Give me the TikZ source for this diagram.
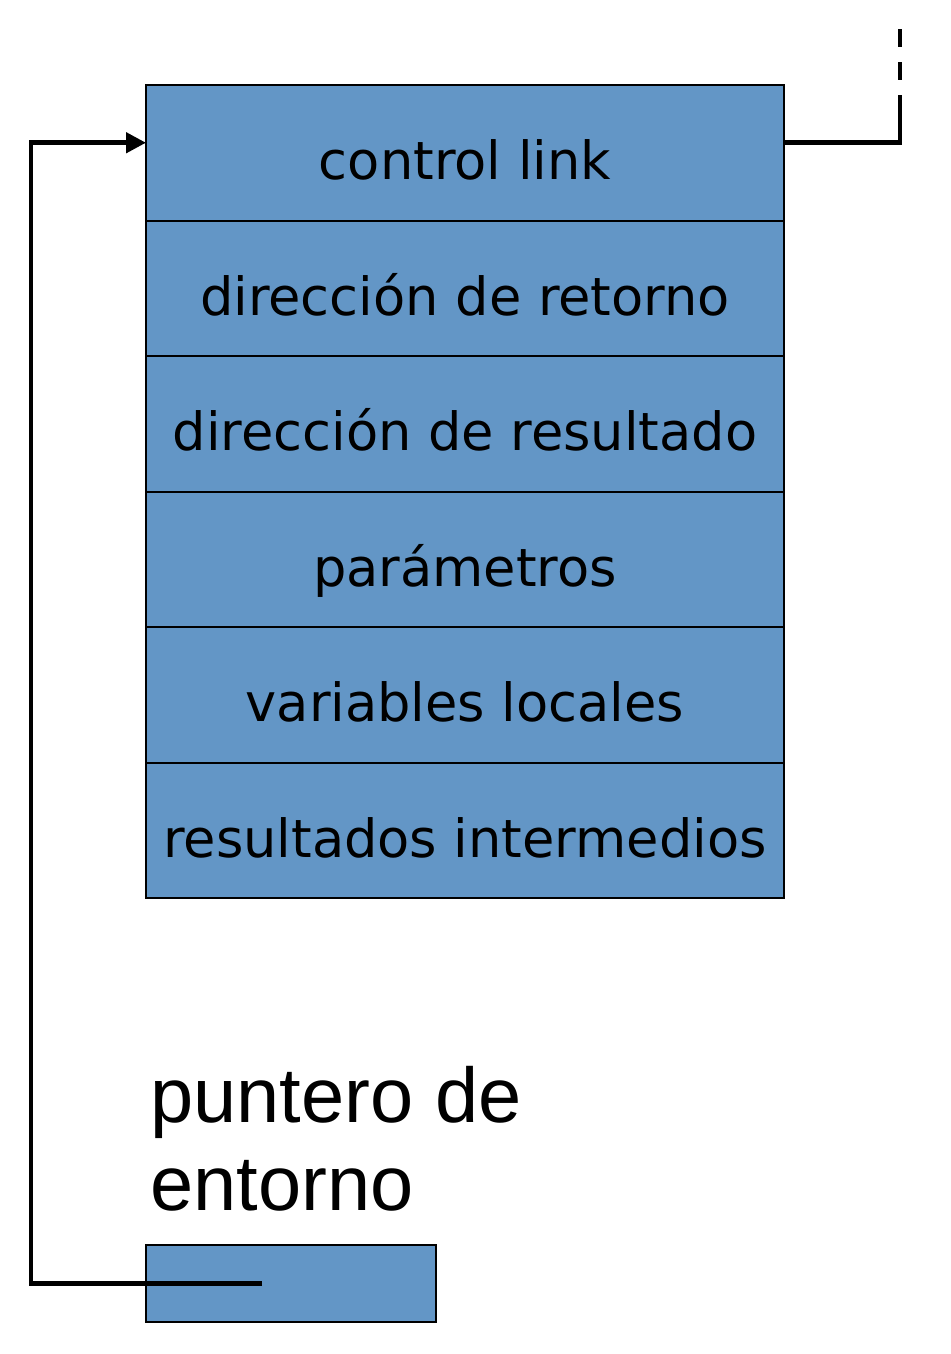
\documentclass[tikz,border=0pt]{standalone}
\usepackage{fontspec}
\setmainfont{DejaVu Sans}
\newfontfamily\labelfont{Liberation Sans}
\usetikzlibrary{arrows.meta, positioning}
\definecolor{framefill}{RGB}{99,150,198}

\begin{document}
\begin{tikzpicture}[x=0.5pt, y=-0.5pt,
  slot/.style={draw=black, fill=framefill, line width=1pt, minimum width=319pt,
    minimum height=67.75pt, inner sep=0pt, outer sep=0pt, text height=27pt, text depth=0pt,
    font=\fontsize{26.3}{30}\selectfont},
  link/.style={line width=2.3pt}]
  \useasboundingbox (0,0) rectangle (950,1354);

  % activation record
  \node[slot, anchor=north west] (clink) at (146,85) {control link};
  \node[slot, below=0pt of clink] (retaddr) {dirección de retorno};
  \node[slot, below=0pt of retaddr] (resaddr) {dirección de resultado};
  \node[slot, below=0pt of resaddr] (params) {parámetros};
  \node[slot, below=0pt of params] (locvars) {variables locales};
  \node[slot, below=0pt of locvars] (temps) {resultados intermedios};

  % environment pointer
  \node[anchor=north west, inner sep=0pt, align=left,
    font=\labelfont\fontsize{38.8}{44}\selectfont] (envlabel) at (150,1066) {puntero de\\entorno};
  \node[draw=black, fill=framefill, line width=1pt, minimum width=145pt, minimum height=38.5pt,
    inner sep=0pt, outer sep=0pt, anchor=north west] (envptr) at (146,1245) {};
  \coordinate (ptrend) at ([xshift=58pt]envptr.west);

  \draw[link, -{Triangle[length=10pt, width=10pt]}] (ptrend) -- ++(-231,0) |- ([yshift=5pt]clink.west);
  \draw[link] ([yshift=5pt]clink.east) -- ++(116,0) coordinate (ctlturn) -- ++(0,-48);
  \draw[link, dash pattern=on 9pt off 7.5pt] ([yshift=31.5pt]ctlturn) -- ([yshift=57.5pt]ctlturn);
\end{tikzpicture}
\end{document}
